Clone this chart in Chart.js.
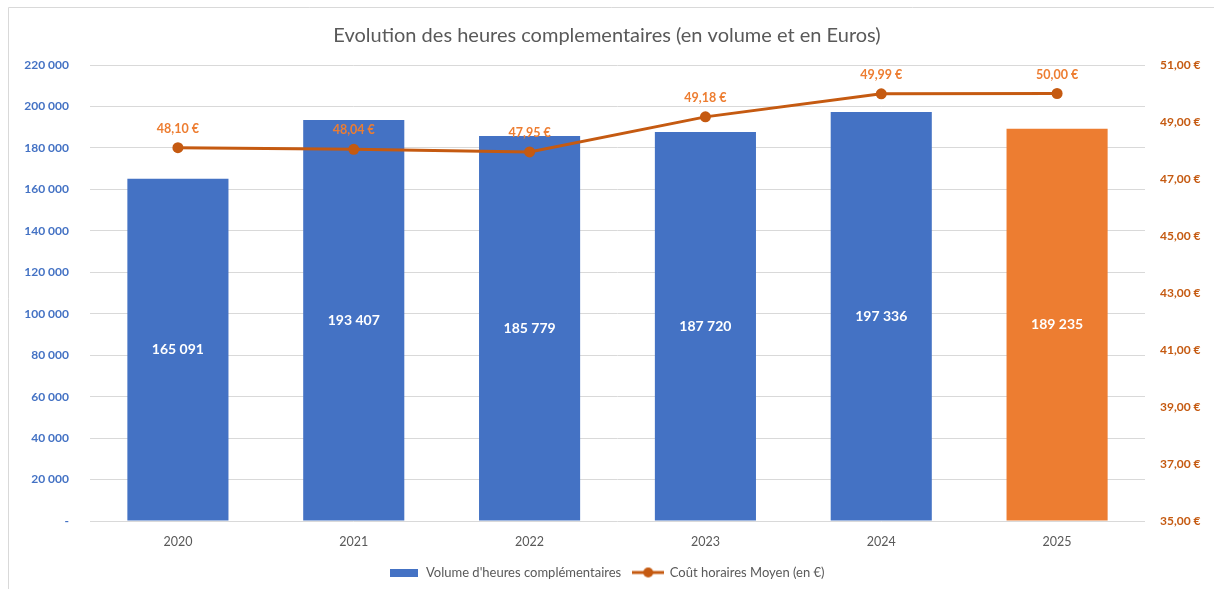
<!DOCTYPE html>
<html>
<head>
<meta charset="utf-8">
<script src="https://cdn.jsdelivr.net/npm/chart.js@4"></script>
<style>
  html, body { margin: 0; padding: 0; background: #fff; }
  #wrap { width: 1214px; height: 589px; position: relative; }
</style>
</head>
<body>
<div id="wrap"><canvas id="heuresChart" width="1214" height="589"></canvas></div>
<script>
// data
const years = ['2020', '2021', '2022', '2023', '2024', '2025'];
const volumeHeures = [165091, 193407, 185779, 187720, 197336, 189235];
const coutMoyen = [48.10, 48.04, 47.95, 49.18, 49.99, 50.00];
const barColors = ['#4472C4', '#4472C4', '#4472C4', '#4472C4', '#4472C4', '#ED7D31'];

const FONT = 'Lato, "Open Sans", sans-serif';

function fmtNum(v) {
    return String(Math.round(v)).replace(/\B(?=(\d{3})+(?!\d))/g, ' ');
}
function fmtEuro(v) {
    return v.toFixed(2).replace('.', ',') + ' €';
}

// legend swatches drawn as small canvases
function makeBarSwatch() {
    const c = document.createElement('canvas');
    c.width = 28; c.height = 8;
    const x = c.getContext('2d');
    x.fillStyle = '#4472C4';
    x.fillRect(0, 0, 28, 8);
    return c;
}
function makeLineSwatch() {
    const c = document.createElement('canvas');
    c.width = 32; c.height = 12;
    const x = c.getContext('2d');
    x.strokeStyle = '#C55A11';
    x.lineWidth = 3;
    x.beginPath(); x.moveTo(0, 6); x.lineTo(32, 6); x.stroke();
    x.fillStyle = '#C55A11';
    x.beginPath(); x.arc(16, 6, 5, 0, Math.PI * 2); x.fill();
    return c;
}

// value labels on bars and points
const valueLabels = {
    id: 'valueLabels',
    afterDatasetsDraw(chart) {
        const ctx = chart.ctx;
        chart.data.datasets.forEach((ds, i) => {
            const meta = chart.getDatasetMeta(i);
            meta.data.forEach((el, j) => {
                ctx.save();
                ctx.textAlign = 'center';
                ctx.textBaseline = 'middle';
                if (ds.type === 'bar') {
                    ctx.fillStyle = '#FFFFFF';
                    ctx.font = 'bold 14px ' + FONT;
                    ctx.fillText(fmtNum(ds.data[j]), el.x, (el.y + el.base) / 2);
                } else {
                    ctx.fillStyle = '#ED7D31';
                    ctx.font = 'bold 12.5px ' + FONT;
                    ctx.fillText(fmtEuro(ds.data[j]), el.x, el.y - 19);
                }
                ctx.restore();
            });
        });
    }
};

// light frame around the chart
const frame = {
    id: 'frame',
    beforeDraw(chart) {
        const ctx = chart.ctx;
        ctx.save();
        ctx.strokeStyle = '#D9D9D9';
        ctx.lineWidth = 1;
        ctx.beginPath();
        ctx.moveTo(8.5, 600); ctx.lineTo(8.5, 7.5); ctx.lineTo(1214, 7.5);
        ctx.stroke();
        ctx.restore();
    }
};

const barSwatch = makeBarSwatch();
const lineSwatch = makeLineSwatch();

new Chart(document.getElementById('heuresChart').getContext('2d'), {
    data: {
        labels: years,
        datasets: [{
            type: 'bar',
            label: "Volume d'heures complémentaires",
            data: volumeHeures,
            backgroundColor: barColors,
            barPercentage: 0.575,
            categoryPercentage: 1,
            yAxisID: 'y',
            order: 2
        }, {
            type: 'line',
            label: 'Coût horaires Moyen (en €)',
            data: coutMoyen,
            borderColor: '#C55A11',
            backgroundColor: '#C55A11',
            borderWidth: 3,
            pointRadius: 5.5,
            pointBackgroundColor: '#C55A11',
            pointBorderWidth: 0,
            tension: 0,
            yAxisID: 'y1',
            order: 1
        }]
    },
    options: {
        responsive: false,
        animation: false,
        layout: { padding: { left: 8, right: 8, top: 0, bottom: 0 } },
        plugins: {
            title: {
                display: true,
                text: 'Evolution des heures complementaires (en volume et en Euros)',
                color: '#595959',
                font: { family: FONT, size: 20, weight: 'normal' },
                padding: { top: 24, bottom: 17 }
            },
            legend: {
                position: 'bottom',
                labels: {
                    usePointStyle: true,
                    pointStyleWidth: 30,
                    color: '#595959',
                    font: { family: FONT, size: 13 },
                    padding: 12,
                    generateLabels(chart) {
                        const items = Chart.defaults.plugins.legend.labels.generateLabels(chart);
                        items.sort((a, b) => a.datasetIndex - b.datasetIndex);
                        items.forEach(it => {
                            it.pointStyle = it.datasetIndex === 0 ? barSwatch : lineSwatch;
                        });
                        return items;
                    }
                }
            },
            tooltip: { enabled: false }
        },
        scales: {
            x: {
                grid: { display: false },
                border: { display: false },
                ticks: { color: '#595959', font: { family: FONT, size: 12.5 }, padding: 5 }
            },
            y: {
                position: 'left',
                min: 0,
                max: 220000,
                afterFit(scale) { scale.width = 82; },
                grid: { color: '#D9D9D9', drawTicks: false },
                border: { display: false },
                ticks: {
                    stepSize: 20000,
                    color: '#4472C4',
                    font: { family: FONT, size: 12, weight: 'bold' },
                    padding: 21,
                    callback: v => v === 0 ? '-' : fmtNum(v)
                }
            },
            y1: {
                position: 'right',
                min: 35,
                max: 51,
                afterFit(scale) { scale.width = 61; },
                grid: { display: false, drawTicks: false },
                border: { display: false },
                ticks: {
                    stepSize: 2,
                    color: '#C55A11',
                    font: { family: FONT, size: 12, weight: 'bold' },
                    padding: 15,
                    callback: v => fmtEuro(v)
                }
            }
        }
    },
    plugins: [frame, valueLabels]
});
</script>
</body>
</html>
